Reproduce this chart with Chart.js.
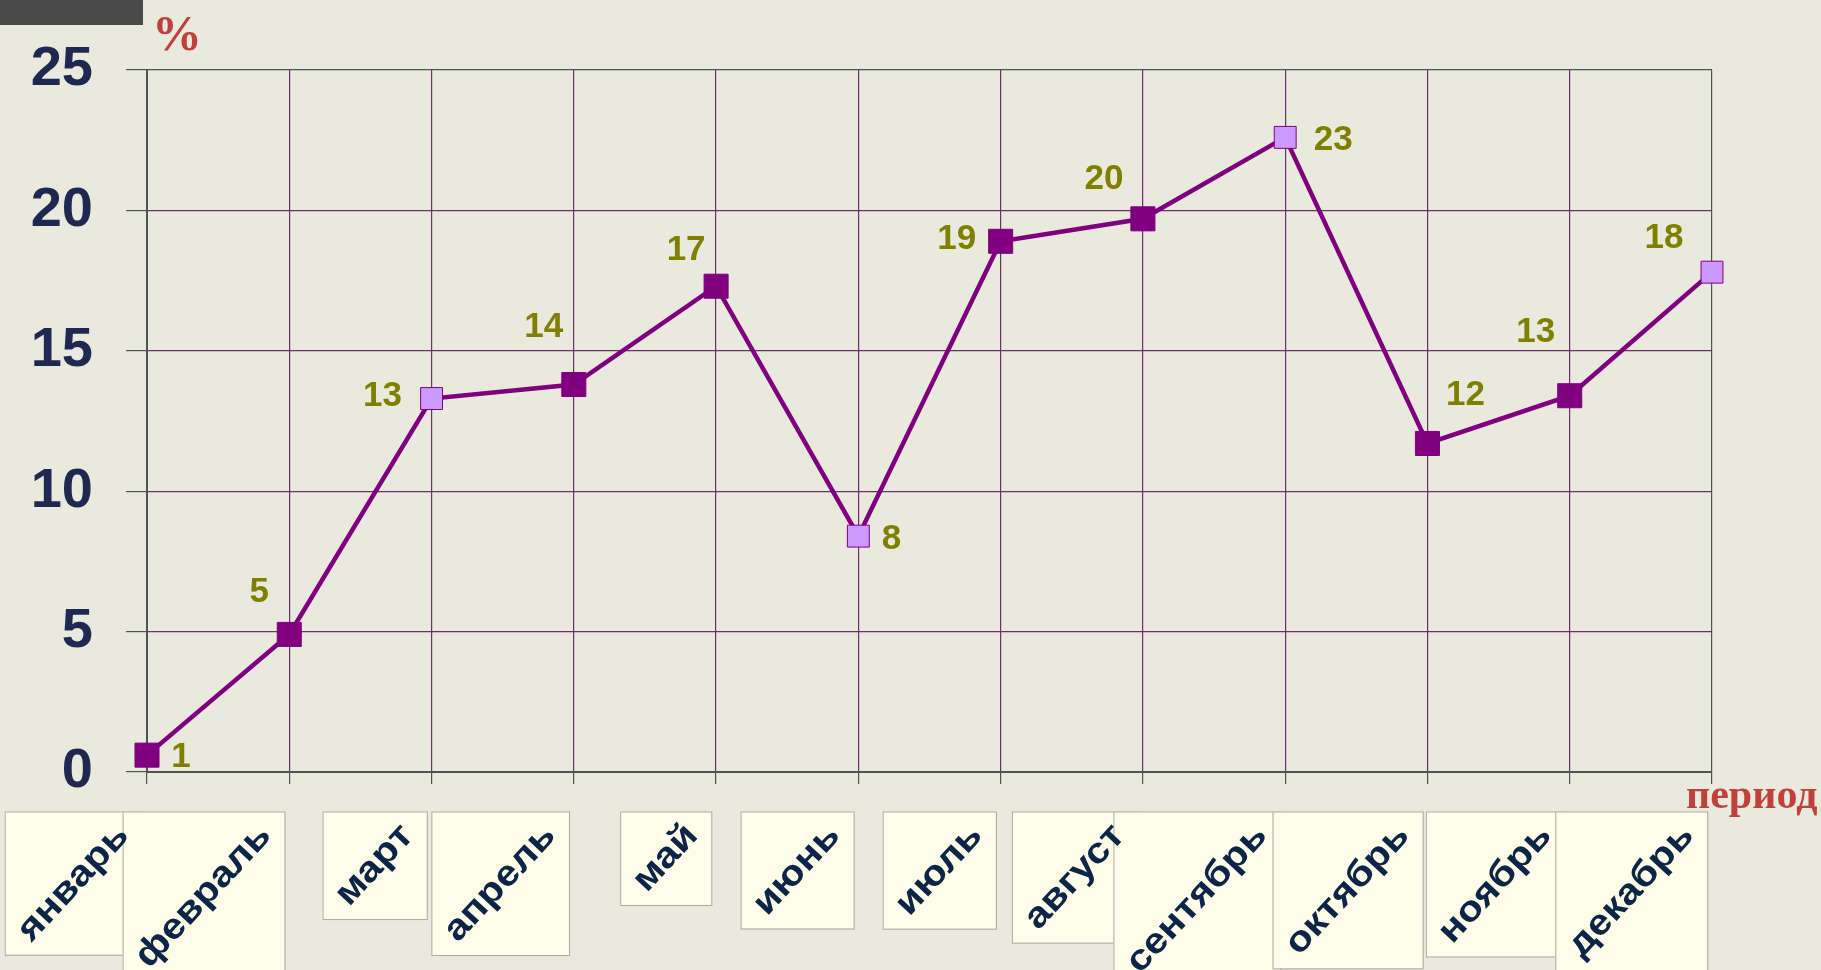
<!DOCTYPE html>
<html>
<head>
<meta charset="utf-8">
<script src="https://cdn.jsdelivr.net/npm/chart.js@4.4.0/dist/chart.umd.min.js"></script>
<style>
    html, body { margin: 0; padding: 0; background: #e9e9dd; }
    #wrap { width: 1821px; height: 970px; }
</style>
</head>
<body>
<div id="wrap"><canvas id="growthChart" width="1821" height="970"></canvas></div>
<script>
// data
const months = ['январь', 'февраль', 'март', 'апрель', 'май', 'июнь',
    'июль', 'август', 'сентябрь', 'октябрь', 'ноябрь', 'декабрь'];
const values = [0.6, 4.9, 13.3, 13.8, 17.3, 8.4, 18.9, 19.7, 22.6, 11.7, 13.4, 17.8];
const yTicks = [0, 5, 10, 15, 20, 25];
const yTitle = '%';
const xTitle = 'период';

// where each value label sits relative to its point
const labelOffsets = [[34, 2], [-30, -42], [-49, -2], [-30, -57], [-30, -36], [33, 3],
    [-44, -2], [-39, -39], [48, 3], [38, -48], [-34, -63], [-48, -34]];

const _PURPLE = '#800080';
const _LILAC = '#cc99ff';
const _GRID = '#6a3068';
const _FRAME = '#4c5454';

// background, month boxes, value labels and axis titles
const decorPlugin = {
    id: 'decor',
    beforeDraw(chart) {
        const ctx = chart.ctx;
        ctx.save();
        ctx.fillStyle = '#e9e9dd';
        ctx.fillRect(0, 0, chart.width, chart.height);
        ctx.fillStyle = '#4a4a4a';
        ctx.fillRect(0, 0, 143, 25);
        ctx.restore();
    },
    afterDatasetsDraw(chart) {
        const ctx = chart.ctx;
        const meta = chart.getDatasetMeta(0);
        ctx.save();
        ctx.font = 'bold 35px "Liberation Sans", Arial, sans-serif';
        ctx.fillStyle = '#7f7f00';
        ctx.textAlign = 'center';
        ctx.textBaseline = 'middle';
        meta.data.forEach((pt, i) => {
            const off = labelOffsets[i];
            ctx.fillText(String(Math.round(values[i])), pt.x + off[0], pt.y + off[1]);
        });
        ctx.restore();
    },
    afterDraw(chart) {
        const ctx = chart.ctx;
        const xScale = chart.scales.x;
        const ang = -47 * Math.PI / 180;
        const ux = Math.cos(ang), uy = Math.sin(ang);
        const nx = -Math.sin(ang), ny = Math.cos(ang);
        const h = 28, pad = 9, stretch = 1.13;
        ctx.save();
        ctx.font = 'bold 36px "Liberation Sans", Arial, sans-serif';
        const anchors = months.map((m, i) => {
            const tx = xScale.getPixelForValue(i);
            return [tx - 24, 830, ctx.measureText(m).width * stretch];
        });
        // boxes first, then the words, so no box hides a word
        anchors.forEach(([ax, ay, w]) => {
            const pts = [
                [ax + h / 2 * nx, ay + h / 2 * ny],
                [ax - h / 2 * nx, ay - h / 2 * ny],
                [ax - w * ux + h / 2 * nx, ay - w * uy + h / 2 * ny],
                [ax - w * ux - h / 2 * nx, ay - w * uy - h / 2 * ny]
            ];
            const xs = pts.map(p => p[0]), ys = pts.map(p => p[1]);
            const left = Math.min(...xs) - pad, right = Math.max(...xs) + pad;
            const top = Math.min(...ys) - pad, bottom = Math.max(...ys) + pad;
            ctx.fillStyle = '#fdfde9';
            ctx.fillRect(left, top, right - left, bottom - top);
            ctx.strokeStyle = '#a9a9a2';
            ctx.lineWidth = 1;
            ctx.strokeRect(left + 0.5, top + 0.5, right - left, bottom - top);
        });
        anchors.forEach(([ax, ay], i) => {
            ctx.save();
            ctx.translate(ax, ay);
            ctx.rotate(ang);
            ctx.scale(stretch, 1);
            ctx.fillStyle = '#0c2447';
            ctx.textAlign = 'right';
            ctx.textBaseline = 'middle';
            ctx.fillText(months[i], 0, 0);
            ctx.restore();
        });

        ctx.fillStyle = '#c0403a';
        ctx.font = 'bold 50px "Liberation Serif", "Times New Roman", serif';
        ctx.textAlign = 'left';
        ctx.textBaseline = 'alphabetic';
        ctx.fillText(yTitle, 152, 50);
        ctx.font = 'bold 42px "Liberation Serif", "Times New Roman", serif';
        ctx.fillText(xTitle, 1686, 808);
        ctx.restore();
    }
};

const ctx = document.getElementById('growthChart').getContext('2d');
const growthChart = new Chart(ctx, {
    type: 'line',
    data: {
        labels: months,
        datasets: [{
            data: values,
            borderColor: _PURPLE,
            borderWidth: 4.5,
            tension: 0,
            pointStyle: 'rect',
            pointRadius: c => (c.dataIndex % 3 === 2 ? 15.5 : 17),
            pointHoverRadius: c => (c.dataIndex % 3 === 2 ? 15.5 : 17),
            pointBackgroundColor: c => (c.dataIndex % 3 === 2 ? _LILAC : _PURPLE),
            pointBorderColor: _PURPLE,
            pointBorderWidth: 1,
        }]
    },
    options: {
        responsive: false,
        animation: false,
        layout: {
            padding: { top: 70, right: 109, left: 0, bottom: 0 }
        },
        plugins: {
            legend: { display: false },
            tooltip: { enabled: false }
        },
        scales: {
            x: {
                offset: false,
                border: { color: _FRAME, width: 2 },
                grid: {
                    color: c => (c.index === months.length - 1 ? _FRAME : _GRID),
                    lineWidth: 1.2,
                    tickLength: 12,
                    tickColor: _FRAME
                },
                ticks: { display: false },
                afterFit: scale => { scale.height = 198; }
            },
            y: {
                min: 0,
                max: 25,
                border: { color: _FRAME, width: 2 },
                grid: {
                    color: c => (c.tick && c.tick.value === 25 ? _FRAME : _GRID),
                    lineWidth: 1.2,
                    tickLength: 21,
                    tickColor: _FRAME
                },
                afterBuildTicks: scale => {
                    scale.ticks = yTicks.map(v => ({ value: v }));
                },
                ticks: {
                    padding: 33,
                    color: '#1e2850',
                    font: { family: '"Liberation Sans", Arial, sans-serif', size: 56, weight: 'bold' }
                },
                afterFit: scale => { scale.width = 147; }
            }
        }
    },
    plugins: [decorPlugin]
});
</script>
</body>
</html>
